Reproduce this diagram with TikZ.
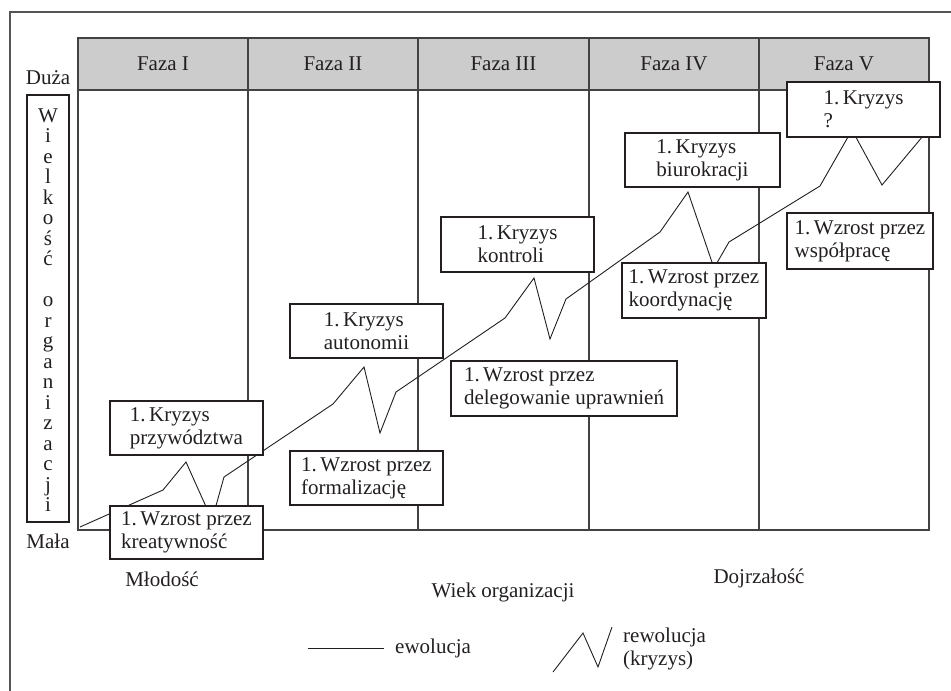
\documentclass[tikz,border=0pt]{standalone}
\usepackage{fontspec}
\setmainfont{Liberation Serif}
\definecolor{ink}{RGB}{35,31,32}
\definecolor{hdr}{RGB}{204,204,204}
\definecolor{framec}{RGB}{85,85,85}
\begin{document}
\begin{tikzpicture}[x=1pt,y=-1pt,
  every node/.style={text=ink, font=\fontsize{21}{23}\selectfont},
  box/.style={draw=ink, fill=white, line width=1.1pt, align=left, inner sep=0pt},
  lbl/.style={inner sep=0pt},
  curve/.style={draw=ink, line width=0.9pt, line join=miter},
  gridline/.style={draw=ink!85, line width=1.1pt}]
\useasboundingbox (0,0) rectangle (951,691);
\clip (0,0) rectangle (951,691);
% outer frame
\draw[draw=framec, line width=1.4pt] (10,12) rectangle (1000,740);
% table
\fill[hdr] (78,38) rectangle (929,90);
\draw[gridline] (78,38) rectangle (929,530);
\draw[gridline] (78,90) -- (929,90);
\foreach \x in {248,418,589,759} \draw[gridline] (\x,38) -- (\x,530);
% header labels
\node[lbl] (f1) at (163,64) {Faza I};
\node[lbl] (f2) at (333,64) {Faza II};
\node[lbl] (f3) at (503.5,64) {Faza III};
\node[lbl] (f4) at (674,64) {Faza IV};
\node[lbl] (f5) at (844,64) {Faza V};
% vertical axis
\node[lbl] (duza) at (48,78) {Duża};
\node[lbl] (mala) at (48,541) {Mała};
\node[draw=ink, line width=1.1pt, minimum width=42pt, minimum height=427pt, inner sep=0pt] (axbox) at (48,308.5) {};
\foreach \ch [count=\k] in {W,i,e,l,k,o,ś,ć,{},o,r,g,a,n,i,z,a,c,j,i}
  \node[lbl, anchor=base] (v\k) at (48,{122+(\k-1)*20.5}) {\ch};
% curve coordinates
\coordinate (p0) at (80,527);
\coordinate (p1) at (163,490);
\coordinate (p2) at (186,462);
\coordinate (p3) at (212,520);
\coordinate (p4) at (224,477);
\coordinate (p5) at (333,404);
\coordinate (p6) at (364,367);
\coordinate (p7) at (380,433);
\coordinate (p8) at (396,392);
\coordinate (p9) at (505,318);
\coordinate (p10) at (534,278);
\coordinate (p11) at (550,339);
\coordinate (p12) at (566,299);
\coordinate (p13) at (660,232);
\coordinate (p14) at (688,192);
\coordinate (p15) at (714,268);
\coordinate (p16) at (729,242);
\coordinate (p17) at (820,186);
\coordinate (p18) at (852,130);
\coordinate (p19) at (882,185);
\coordinate (p20) at (928,130);
\draw[curve] (p0) -- (p1) -- (p2) -- (p3) -- (p4) -- (p5) -- (p6) -- (p7) -- (p8)
  -- (p9) -- (p10) -- (p11) -- (p12) -- (p13) -- (p14) -- (p15) -- (p16)
  -- (p17) -- (p18) -- (p19) -- (p20);
% boxes
\node[box, minimum width=153pt, minimum height=54pt] (b1) at (186.5,428) {1.\,Kryzys\\przywództwa};
\node[box, minimum width=153pt, minimum height=53pt] (b2) at (186.5,532.5) {1.\,Wzrost przez\\kreatywność};
\node[box, minimum width=153pt, minimum height=54pt] (b3) at (366.5,331) {1.\,Kryzys\\autonomii};
\node[box, minimum width=153pt, minimum height=54pt] (b4) at (366.5,478) {1.\,Wzrost przez\\formalizację};
\node[box, minimum width=153pt, minimum height=55pt] (b5) at (517.5,244.5) {1.\,Kryzys\\kontroli};
\node[box, minimum width=226pt, minimum height=55pt] (b6) at (564,388.5) {1.\,Wzrost przez\\delegowanie uprawnień};
\node[box, minimum width=155pt, minimum height=54pt] (b7) at (702.5,160) {1.\,Kryzys\\biurokracji};
\node[box, minimum width=144pt, minimum height=55pt] (b8) at (694,290.5) {1.\,Wzrost przez\\koordynację};
\node[box, minimum width=153pt, minimum height=55pt] (b9) at (863.5,109.5) {1.\,Kryzys\\?};
\node[box, minimum width=146pt, minimum height=56pt] (b10) at (860,241) {1.\,Wzrost przez\\współpracę};
% bottom labels
\node[lbl] (mlod) at (162,579) {Młodość};
\node[lbl] (wiek) at (503,592) {Wiek organizacji};
\node[lbl] (dojr) at (759,578) {Dojrzałość};
% legend
\coordinate (e1) at (308,648);
\coordinate (e2) at (384,648);
\draw[curve] (e1) -- (e2);
\node[lbl, anchor=west] (ewo) at (395,648) {ewolucja};
\coordinate (r1) at (553,672);
\coordinate (r2) at (583,633);
\coordinate (r3) at (598,667);
\coordinate (r4) at (612,627);
\draw[curve] (r1) -- (r2) -- (r3) -- (r4);
\node[lbl, anchor=west, align=left] (rewo) at (623,648.5) {rewolucja\\(kryzys)};
\end{tikzpicture}
\end{document}
